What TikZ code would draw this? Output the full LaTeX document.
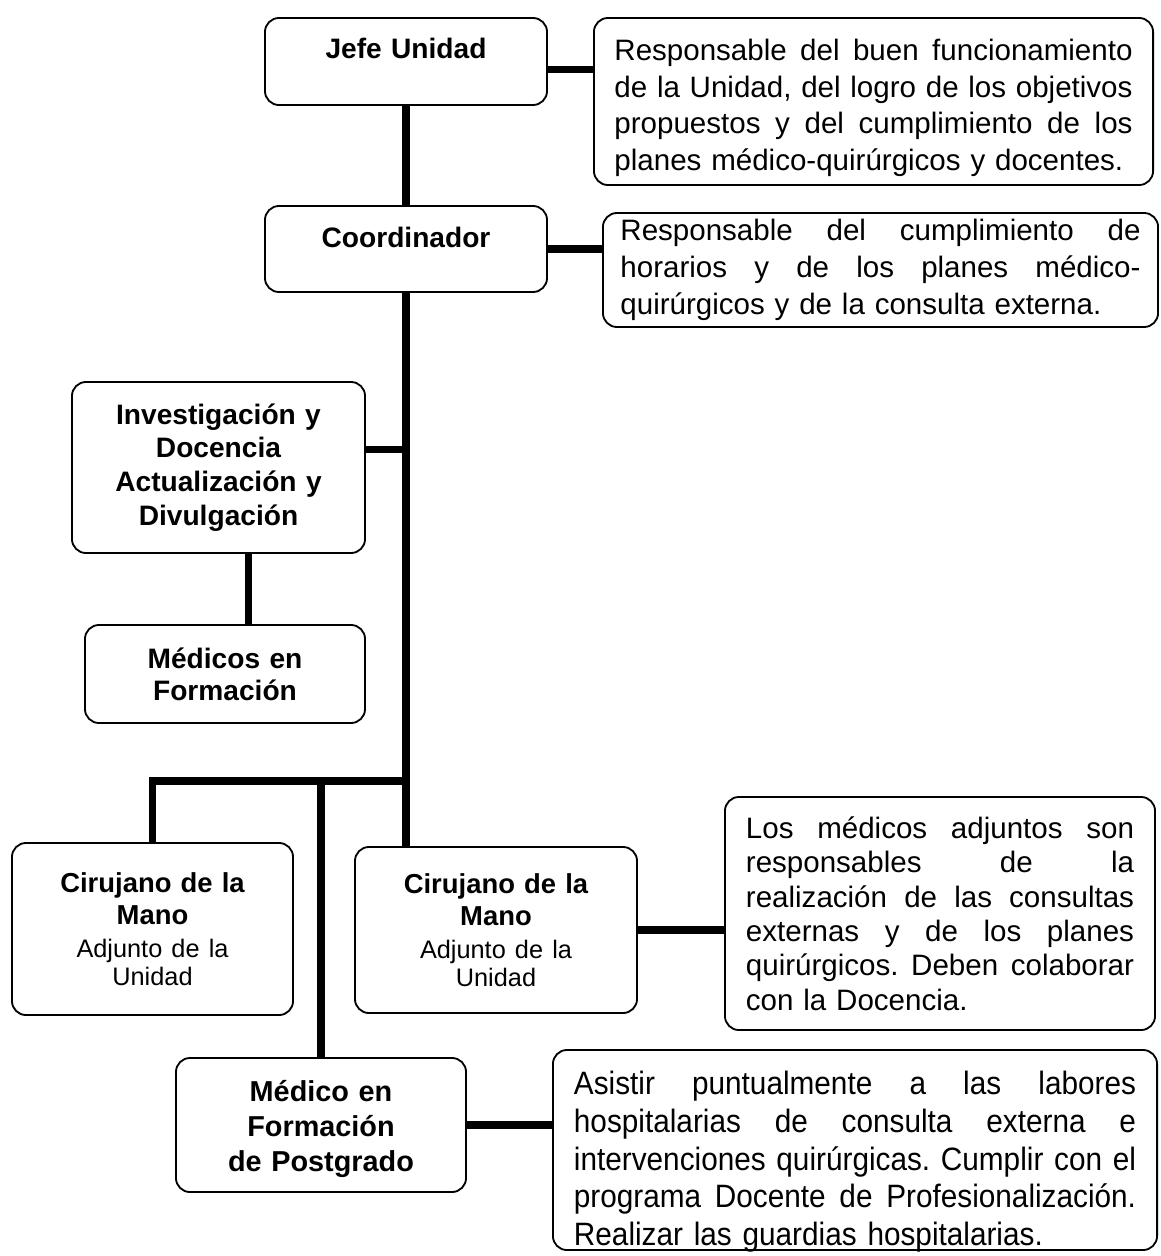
\documentclass[tikz,border=0pt]{standalone}
\usepackage{fontspec}
\setmainfont{Liberation Sans}
\newfontfamily\narrowfont{Liberation Sans}[FakeStretch=0.92]
\usetikzlibrary{calc}
\frenchspacing
% one justified line of a description box
\newlength{\jw}
\newcommand{\jl}[1]{\leavevmode\hbox to \jw{\spaceskip=\fontdimen2\font plus 1fil\relax #1}}
\newcommand{\adj}{\fontsize{18}{19.8}\mdseries\selectfont}
\begin{document}
\begin{tikzpicture}[x=0.025cm,y=-0.025cm,
	box/.style={draw, line width=1.3pt, rounded corners=0.35cm, inner sep=0pt, align=center},
	title/.style={box, text width=6.6cm, font=\fontsize{20}{24}\selectfont\bfseries},
	desc/.style={box, align=left, text width=#1, execute at begin node={\setlength{\jw}{#1}},
		font=\fontsize{21}{25.6}\selectfont},
	link/.style={line width=5pt}]
	\useasboundingbox (0,0) rectangle (1161,1256);
	
	\node[title,minimum width=7.05cm,minimum height=2.175cm,text depth=0.66cm] (jefe) at (406,61.5) {Jefe Unidad};
	\node[title,minimum width=7.05cm,minimum height=2.15cm,text depth=0.6cm] (coord) at (406,249) {Coordinador};
	\node[desc=12.95cm,minimum width=13.975cm,minimum height=4.175cm,text height=0.85cm,font=\fontsize{21}{26}\selectfont] (resp1) at (873.5,101.5)
	{\jl{Responsable del buen funcionamiento}\\
	 \jl{de la Unidad, del logro de los objetivos}\\
	 \jl{propuestos y del cumplimiento de los}\\
	 planes médico-quirúrgicos y docentes.};
	\node[desc=13cm,minimum width=13.875cm,minimum height=2.85cm,font=\fontsize{21}{26.5}\selectfont] (resp2) at (880.5,270)
	{\jl{Responsable del cumplimiento de}\\
	 \jl{horarios y de los planes médico-}\\
	 quirúrgicos y de la consulta externa.};
	
	\node[title,minimum width=7.325cm,minimum height=4.275cm] (invest) at (218.5,467.5)
	{Investigación y\\ Docencia\\ Actualización y\\ Divulgación};
	\node[title,minimum width=7cm,minimum height=2.45cm,font=\fontsize{20}{23}\selectfont\bfseries] (medform) at (225,674)
	{Médicos en\\ Formación};
	
	\node[title,minimum width=7.025cm,minimum height=4.3cm,font=\fontsize{19.5}{23.4}\selectfont\bfseries] (cir1) at (152.5,929)
	{Cirujano de la\\ Mano\\[3.5pt] {\adj Adjunto de la\\ Unidad\par}};
	\node[title,minimum width=7.05cm,minimum height=4.15cm,font=\fontsize{19.5}{23.4}\selectfont\bfseries] (cir2) at (496,930)
	{Cirujano de la\\ Mano\\[3.5pt] {\adj Adjunto de la\\ Unidad\par}};
	\node[desc=9.7cm,minimum width=10.75cm,minimum height=5.825cm,font=\fontsize{21}{24.5}\selectfont] (resp3) at (940,913.5)
	{\jl{Los médicos adjuntos son}\\
	 \jl{responsables de la}\\
	 \jl{realización de las consultas}\\
	 \jl{externas y de los planes}\\
	 \jl{quirúrgicos. Deben colaborar}\\
	 con la Docencia.};
	
	\node[title,minimum width=7.25cm,minimum height=3.35cm,text height=0.72cm,font=\fontsize{20.5}{24.8}\selectfont\bfseries] (mfp) at (321,1125)
	{Médico en\\ Formación\\ de Postgrado};
	\node[desc=14.05cm,minimum width=15.1cm,minimum height=5cm,text height=1.02cm,text depth=3.8cm,font=\narrowfont\fontsize{23}{26.9}\selectfont] (resp4) at (855,1150)
	{\jl{Asistir puntualmente a las labores}\\
	 \jl{hospitalarias de consulta externa e}\\
	 \jl{intervenciones quirúrgicas. Cumplir con el}\\
	 \jl{programa Docente de Profesionalización.}\\
	 Realizar las guardias hospitalarias.};
	
	%%% connectors
	\coordinate (jr) at ([yshift=-0.21cm]jefe.east);
	\coordinate (ir) at ([yshift=0.46cm]invest.east);
	\coordinate (im) at ([xshift=0.74cm]invest.south);
	\coordinate (bar) at (406,781);
	\draw[link] (jr) -- (jr -| resp1.west);
	\draw[link] (coord.east) -- (coord.east -| resp2.west);
	\draw[link] (jefe.south) -- (coord.north);
	\draw[link] (coord.south) -- (coord.south |- cir2.north);
	\draw[link] (ir) -- (ir -| coord.south);
	\draw[link] (im) -- (im |- medform.north);
	\draw[link] (bar) -| (cir1.north);
	\draw[link] (mfp.north |- bar) -- (mfp.north);
	\draw[link] (cir2.east) -- (cir2.east -| resp3.west);
	\draw[link] (mfp.east) -- (mfp.east -| resp4.west);
\end{tikzpicture}
\end{document}
